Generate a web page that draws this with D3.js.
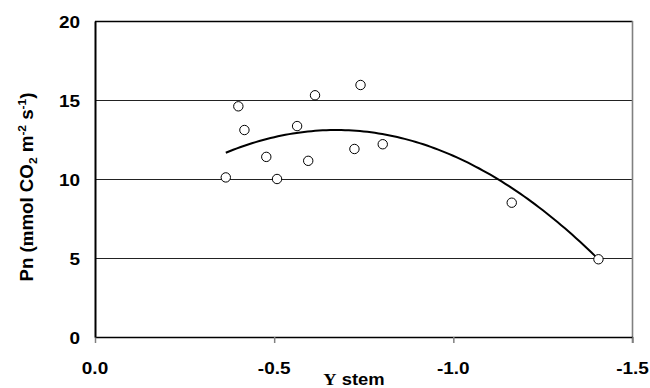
<!DOCTYPE html>
<html>
<head>
<meta charset="utf-8">
<script src="https://cdn.jsdelivr.net/npm/d3@7"></script>
<style>
  html, body { margin: 0; padding: 0; background: #fff; }
  svg { display: block; }
  text { font-family: "Liberation Sans", Arial, sans-serif; font-weight: bold; fill: #000; }
</style>
</head>
<body>
<svg id="chart" width="650" height="388"></svg>
<script>
// Stem water potential (x) against net photosynthesis (y)
const psiStem = [-0.365, -0.400, -0.417, -0.478, -0.508, -0.564, -0.595, -0.614, -0.724, -0.741, -0.803, -1.163, -1.405];
const pnValues = [10.1, 14.6, 13.1, 11.4, 10.0, 13.35, 11.15, 15.3, 11.9, 15.95, 12.2, 8.5, 4.92];

// Quadratic trend: Pn = c0 + c1*x + c2*x^2, drawn over the observed range
const fitCoef = [6.21, -20.495, -15.24];
const fitRange = [-0.365, -1.405];

const xTicks = [0, -0.5, -1.0, -1.5];
const xTickLabels = ["0.0", "-0.5", "-1.0", "-1.5"];
const yTicks = [0, 5, 10, 15, 20];
const yTickLabels = ["0", "5", "10", "15", "20"];

const svg = d3.select("#chart");
const plotL = 95, plotR = 632.5, plotT = 21, plotB = 337;

const x = d3.scaleLinear().domain([0, -1.5]).range([plotL, plotR]);
const y = d3.scaleLinear().domain([0, 20]).range([plotB, plotT]);

// Horizontal gridlines
svg.append("g").selectAll("line")
  .data(yTicks.filter(v => v > 0 && v < 20))
  .join("line")
  .attr("x1", plotL).attr("x2", plotR)
  .attr("y1", d => Math.round(y(d)) + 0.5).attr("y2", d => Math.round(y(d)) + 0.5)
  .attr("stroke", "#222").attr("stroke-width", 1);

// Frame: top black, right grey
svg.append("line").attr("x1", plotL).attr("x2", plotR).attr("y1", plotT + 0.5).attr("y2", plotT + 0.5)
  .attr("stroke", "#000").attr("stroke-width", 1.5);
svg.append("line").attr("x1", plotR).attr("x2", plotR).attr("y1", plotT).attr("y2", plotB + 6)
  .attr("stroke", "#808080").attr("stroke-width", 1.6);

// X axis with downward ticks
const xAxis = d3.axisBottom(x).tickValues(xTicks).tickSize(6).tickSizeOuter(0).tickFormat("");
const gx = svg.append("g").attr("transform", `translate(0,${plotB})`).call(xAxis);
gx.select(".domain").attr("stroke", "#000").attr("stroke-width", 1.6);
gx.selectAll(".tick line").attr("stroke", "#808080").attr("stroke-width", 1.5);

// Left axis line
const yAxis = d3.axisLeft(y).tickValues(yTicks).tickSize(0).tickSizeOuter(0).tickFormat("");
const gy = svg.append("g").attr("transform", `translate(${plotL},0)`).call(yAxis);
gy.select(".domain").attr("stroke", "#000").attr("stroke-width", 2);

// Tick labels (wide bold face)
const sx = 1.15;
const tickFont = 16.5;
svg.append("g").selectAll("text")
  .data(xTicks)
  .join("text")
  .attr("transform", d => `translate(${x(d)},374) scale(${sx},1)`)
  .attr("text-anchor", "middle")
  .attr("font-size", tickFont)
  .text((d, i) => xTickLabels[i]);

svg.append("g").selectAll("text")
  .data(yTicks)
  .join("text")
  .attr("transform", d => `translate(80,${y(d) + 6.5}) scale(${sx},1)`)
  .attr("text-anchor", "end")
  .attr("font-size", tickFont)
  .text((d, i) => yTickLabels[i]);

// Axis titles
const xTitle = svg.append("text")
  .attr("transform", `translate(354,384.5) scale(${sx},1)`)
  .attr("text-anchor", "middle")
  .attr("font-size", 16);
xTitle.append("tspan").attr("font-family", "'Liberation Serif', 'Times New Roman', serif").text("Y");
xTitle.append("tspan").text(" stem");

const yTitle = svg.append("text")
  .attr("transform", "translate(33,187) rotate(-90)")
  .attr("text-anchor", "middle")
  .attr("font-size", 18)
  .attr("textLength", 189)
  .attr("lengthAdjust", "spacingAndGlyphs");
yTitle.append("tspan").text("Pn (");
yTitle.append("tspan").attr("font-family", "'Liberation Serif', 'Times New Roman', serif").text("m");
yTitle.append("tspan").text("mol CO");
yTitle.append("tspan").attr("font-size", 11.5).attr("dy", 4).text("2");
yTitle.append("tspan").attr("dy", -4).text(" m");
yTitle.append("tspan").attr("font-size", 11.5).attr("dy", -7.5).text("-2");
yTitle.append("tspan").attr("dy", 7.5).text(" s");
yTitle.append("tspan").attr("font-size", 11.5).attr("dy", -7.5).text("-1");
yTitle.append("tspan").attr("dy", 7.5).text(")");

// Trend curve
const fit = v => fitCoef[0] + fitCoef[1] * v + fitCoef[2] * v * v;
const curveX = d3.range(0, 101).map(i => fitRange[0] + (fitRange[1] - fitRange[0]) * i / 100);
svg.append("path")
  .datum(curveX)
  .attr("fill", "none")
  .attr("stroke", "#000")
  .attr("stroke-width", 2)
  .attr("d", d3.line().x(d => x(d)).y(d => y(fit(d))));

// Observations: open circles
svg.append("g").selectAll("circle")
  .data(psiStem.map((v, i) => [v, pnValues[i]]))
  .join("circle")
  .attr("cx", d => x(d[0]))
  .attr("cy", d => y(d[1]))
  .attr("r", 4.7)
  .attr("fill", "#fff")
  .attr("stroke", "#000")
  .attr("stroke-width", 1);
</script>
</body>
</html>
